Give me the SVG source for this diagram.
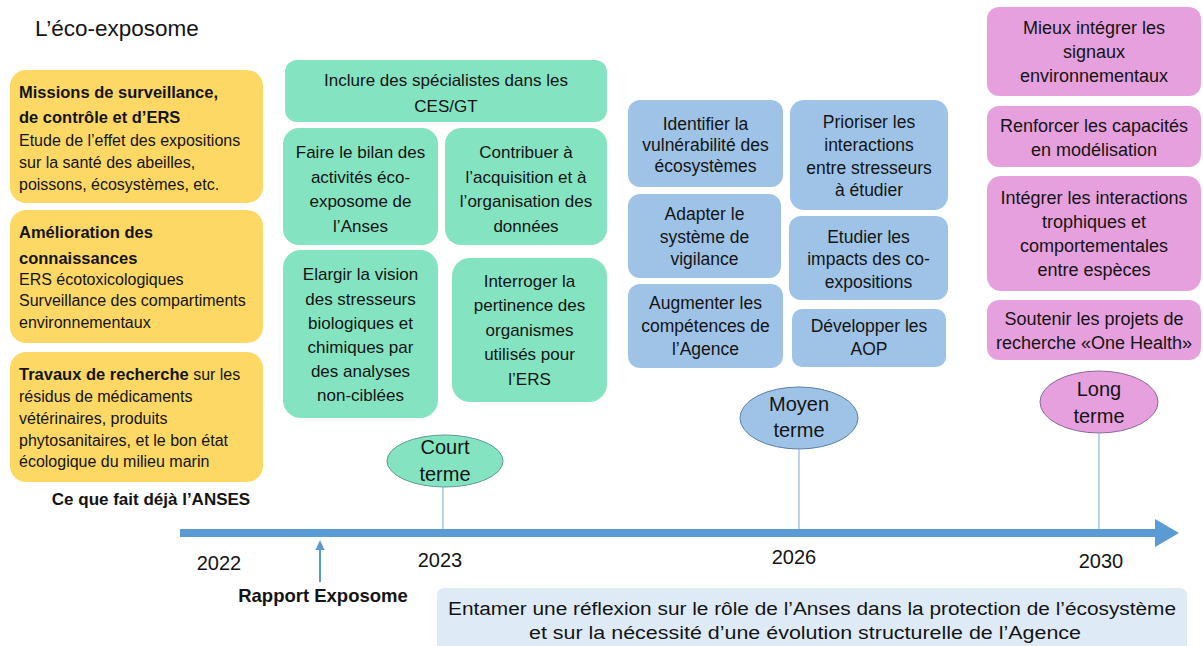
<svg xmlns="http://www.w3.org/2000/svg" width="1203" height="646" viewBox="0 0 1203 646">
<defs>
<style>
text{font-family:"Liberation Sans",Arial,sans-serif;fill:#141414;}
.t{font-size:22.5px;}
.y{fill:#FDD865;}
.g{fill:#84E3C1;}
.b{fill:#9EC3E6;}
.p{fill:#E6A0DE;}
.yl{font-size:16px;}
.yb{font-size:16.5px;font-weight:bold;}
.gt{font-size:17px;text-anchor:middle;}
.bt{font-size:17.5px;text-anchor:middle;}
.pt{font-size:18px;text-anchor:middle;}
.ot{font-size:20px;text-anchor:middle;}
.yr{font-size:20px;text-anchor:middle;}
.conn{stroke:#8FB4DA;stroke-width:1.2;fill:none;}
</style>
</defs>
<rect width="1203" height="646" fill="#fff"/>
<text class="t" x="35" y="36">L’éco-exposome</text>

<g id="yellow1">
<rect class="y" x="10" y="70" width="253" height="133" rx="16"/>
<text class="yb" x="19" y="98">Missions de surveillance,</text>
<text class="yb" x="19" y="123">de contrôle et d’ERS</text>
<text class="yl" x="19" y="146">Etude de l’effet des expositions</text>
<text class="yl" x="19" y="168">sur la santé des abeilles,</text>
<text class="yl" x="19" y="190">poissons, écosystèmes, etc.</text>
</g>
<g id="yellow2">
<rect class="y" x="10" y="210" width="253" height="133" rx="16"/>
<text class="yb" x="19" y="238">Amélioration des</text>
<text class="yb" x="19" y="264">connaissances</text>
<text class="yl" x="19" y="285">ERS écotoxicologiques</text>
<text class="yl" x="19" y="306">Surveillance des compartiments</text>
<text class="yl" x="19" y="328">environnementaux</text>
</g>
<g id="yellow3">
<rect class="y" x="10" y="352" width="253" height="130" rx="16"/>
<text class="yl" x="19" y="380"><tspan class="yb">Travaux de recherche</tspan> sur les</text>
<text class="yl" x="19" y="402">résidus de médicaments</text>
<text class="yl" x="19" y="424">vétérinaires, produits</text>
<text class="yl" x="19" y="446">phytosanitaires, et le bon état</text>
<text class="yl" x="19" y="467">écologique du milieu marin</text>
</g>
<g id="anses-label">
<text x="151" y="505" font-size="17" font-weight="bold" text-anchor="middle">Ce que fait déjà l’ANSES</text>
</g>

<g id="g-inclure">
<rect class="g" x="285" y="60" width="322" height="62" rx="12"/>
<text class="gt" x="446" y="86">Inclure des spécialistes dans les</text>
<text class="gt" x="446" y="112">CES/GT</text>
</g>
<g id="g-bilan">
<rect class="g" x="283" y="128" width="155" height="117" rx="16"/>
<text class="gt" x="360.5" y="158">Faire le bilan des</text>
<text class="gt" x="360.5" y="183">activités éco-</text>
<text class="gt" x="360.5" y="207">exposome de</text>
<text class="gt" x="360.5" y="232">l’Anses</text>
</g>
<g id="g-contribuer">
<rect class="g" x="445" y="128" width="162" height="117" rx="16"/>
<text class="gt" x="526" y="158">Contribuer à</text>
<text class="gt" x="526" y="183">l’acquisition et à</text>
<text class="gt" x="526" y="207">l’organisation des</text>
<text class="gt" x="526" y="232">données</text>
</g>
<g id="g-elargir">
<rect class="g" x="283" y="250" width="155" height="168" rx="18"/>
<text class="gt" x="360.5" y="280">Elargir la vision</text>
<text class="gt" x="360.5" y="305">des stresseurs</text>
<text class="gt" x="360.5" y="329">biologiques et</text>
<text class="gt" x="360.5" y="353">chimiques par</text>
<text class="gt" x="360.5" y="377">des analyses</text>
<text class="gt" x="360.5" y="401">non-ciblées</text>
</g>
<g id="g-interroger">
<rect class="g" x="452" y="258" width="155" height="144" rx="18"/>
<text class="gt" x="529.5" y="287">Interroger la</text>
<text class="gt" x="529.5" y="311">pertinence des</text>
<text class="gt" x="529.5" y="336">organismes</text>
<text class="gt" x="529.5" y="360">utilisés pour</text>
<text class="gt" x="529.5" y="385">l’ERS</text>
</g>
<g id="court-terme">
<ellipse class="g" cx="445" cy="461" rx="58" ry="26" stroke="#5f9a96" stroke-width="1"/>
<text class="ot" x="445" y="454">Court</text>
<text class="ot" x="445" y="481">terme</text>
</g>

<g id="b-identifier">
<rect class="b" x="628" y="100" width="155" height="87" rx="12"/>
<text class="bt" x="705.5" y="130">Identifier la</text>
<text class="bt" x="705.5" y="151">vulnérabilité des</text>
<text class="bt" x="705.5" y="172">écosystèmes</text>
</g>
<g id="b-prioriser">
<rect class="b" x="790" y="100" width="158" height="110" rx="14"/>
<text class="bt" x="869" y="128">Prioriser les</text>
<text class="bt" x="869" y="151">interactions</text>
<text class="bt" x="869" y="174">entre stresseurs</text>
<text class="bt" x="869" y="196">à étudier</text>
</g>
<g id="b-adapter">
<rect class="b" x="628" y="194" width="153" height="84" rx="12"/>
<text class="bt" x="704.5" y="220">Adapter le</text>
<text class="bt" x="704.5" y="243">système de</text>
<text class="bt" x="704.5" y="265">vigilance</text>
</g>
<g id="b-etudier">
<rect class="b" x="789" y="216" width="159" height="84" rx="12"/>
<text class="bt" x="868.5" y="243">Etudier les</text>
<text class="bt" x="868.5" y="265">impacts des co-</text>
<text class="bt" x="868.5" y="288">expositions</text>
</g>
<g id="b-augmenter">
<rect class="b" x="628" y="284" width="155" height="84" rx="12"/>
<text class="bt" x="705.5" y="309">Augmenter les</text>
<text class="bt" x="705.5" y="332">compétences de</text>
<text class="bt" x="705.5" y="355">l’Agence</text>
</g>
<g id="b-developper">
<rect class="b" x="792" y="309" width="154" height="58" rx="10"/>
<text class="bt" x="869" y="332">Développer les</text>
<text class="bt" x="869" y="355">AOP</text>
</g>
<g id="moyen-terme">
<ellipse class="b" cx="799" cy="418" rx="59" ry="31" stroke="#5a7fa8" stroke-width="1"/>
<text class="ot" x="799" y="411">Moyen</text>
<text class="ot" x="799" y="437">terme</text>
</g>

<g id="p-mieux">
<rect class="p" x="987" y="7" width="214" height="89" rx="12"/>
<text class="pt" x="1094" y="34">Mieux intégrer les</text>
<text class="pt" x="1094" y="58">signaux</text>
<text class="pt" x="1094" y="82">environnementaux</text>
</g>
<g id="p-renforcer">
<rect class="p" x="987" y="106" width="214" height="61" rx="12"/>
<text class="pt" x="1094" y="132">Renforcer les capacités</text>
<text class="pt" x="1094" y="156">en modélisation</text>
</g>
<g id="p-integrer">
<rect class="p" x="987" y="176" width="214" height="115" rx="14"/>
<text class="pt" x="1094" y="204">Intégrer les interactions</text>
<text class="pt" x="1094" y="228">trophiques et</text>
<text class="pt" x="1094" y="252">comportementales</text>
<text class="pt" x="1094" y="276">entre espèces</text>
</g>
<g id="p-soutenir">
<rect class="p" x="987" y="300" width="214" height="60" rx="12"/>
<text class="pt" x="1094" y="325">Soutenir les projets de</text>
<text class="pt" x="1094" y="349">recherche «One Health»</text>
</g>
<g id="long-terme">
<ellipse class="p" cx="1099" cy="402" rx="59" ry="31" stroke="#8a6a9a" stroke-width="1"/>
<text class="ot" x="1099" y="396">Long</text>
<text class="ot" x="1099" y="423">terme</text>
</g>

<g id="connectors">
<line class="conn" x1="443" y1="487" x2="443" y2="529"/>
<line class="conn" x1="799" y1="449" x2="799" y2="529"/>
<line class="conn" x1="1099" y1="433" x2="1099" y2="529"/>
<line x1="180" y1="533" x2="1158" y2="533" stroke="#5B9BD5" stroke-width="8"/>
<polygon points="1155,519 1179,533 1155,547" fill="#5B9BD5"/>
<line x1="320" y1="582" x2="320" y2="549" stroke="#5B9BD5" stroke-width="2"/>
<polygon points="320,540 315.5,550 324.5,550" fill="#5B9BD5"/>
</g>

<g id="years">
<text class="yr" x="219" y="570">2022</text>
<text class="yr" x="440" y="567">2023</text>
<text class="yr" x="794" y="564">2026</text>
<text class="yr" x="1101" y="568">2030</text>
</g>
<g id="rapport">
<text x="323" y="602" font-size="18.5" font-weight="bold" text-anchor="middle">Rapport Exposome</text>
</g>
<g id="bottom-box">
<path d="M437,646 V596 Q437,588 445,588 H1179 Q1187,588 1187,596 V646 Z" fill="#DEEBF7"/>
<text x="812" y="615" font-size="18" text-anchor="middle" textLength="728" lengthAdjust="spacingAndGlyphs">Entamer une réflexion sur le rôle de l’Anses dans la protection de l’écosystème</text>
<text x="805" y="639" font-size="18" text-anchor="middle" textLength="552" lengthAdjust="spacingAndGlyphs">et sur la nécessité d’une évolution structurelle de l’Agence</text>
</g>
</svg>
